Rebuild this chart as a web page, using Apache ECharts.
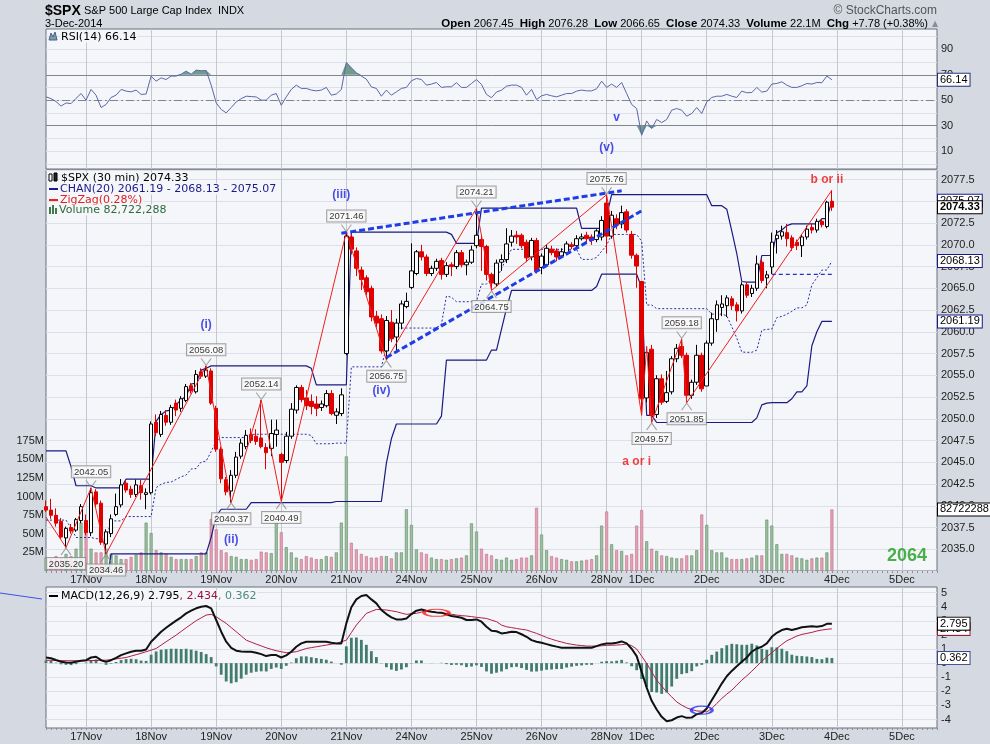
<!DOCTYPE html>
<html><head><meta charset="utf-8">
<script src="https://cdn.jsdelivr.net/npm/echarts@6/dist/echarts.min.js"></script>
<style>html,body{margin:0;padding:0;background:#d4d9e2;}#c{width:990px;height:744px;}</style>
</head><body><div id="c"></div>
<script>
// ---------- categories ----------
const days = ['14Nov','17Nov','18Nov','19Nov','20Nov','21Nov','24Nov','25Nov','26Nov','28Nov','1Dec','2Dec','3Dec','4Dec','5Dec'];
const barsPerDay = [8,13,13,13,13,13,13,13,13,7,13,13,13,13,8];
// ---------- price (30 min bars) ----------
const opens = [
 2039.9,2039.5,2038.9,2038.2,2036.3,2037.5,2037.2,2038.3,
 2038.3,2036.9,2041.6,2040.3,2035.6,2036.8,2039.0,2040.1,2042.6,2041.9,2041.3,2042.3,2041.3,
 2041.5,2049.6,2048.2,2050.4,2049.6,2051.8,2051.2,2052.1,2053.8,2053.1,2055.4,2054.9,2055.5,
 2051.2,2046.5,2043.0,2041.7,2043.5,2045.7,2046.8,2048.2,2048.0,2047.8,2046.7,2046.6,2048.2,
 2045.9,2045.2,2048.0,2051.0,2053.6,2052.4,2052.0,2051.7,2051.3,2051.5,2052.9,2050.4,2050.6,
 2057.5,2070.9,2069.3,2067.1,2066.2,2065.0,2061.8,2061.5,2057.8,2061.1,2059.4,2061.0,2062.9,
 2065.1,2066.7,2069.2,2068.6,2066.7,2067.3,2068.2,2066.6,2067.7,2067.5,2069.1,2067.7,2068.0,
 2069.9,2070.6,2069.8,2066.6,2065.5,2068.0,2068.3,2070.3,2071.1,2071.1,2070.3,2068.6,2070.5,
 2067.4,2067.7,2069.5,2069.3,2068.7,2069.1,2070.0,2069.9,2070.7,2071.1,2070.9,2070.6,2070.9,
 2074.8,2071.0,2073.0,2072.4,2073.8,2071.2,2068.8,
 2065.78,2052.4,2058.0,2050.5,2054.6,2052.0,2053.1,2056.9,2058.3,2057.3,2052.7,2054.2,2057.3,
 2053.77,2058.7,2061.4,2062.8,2063.0,2063.8,2063.1,2062.4,2065.4,2064.4,2065.0,2068.0,2066.2,
 2067.45,2070.7,2071.0,2071.4,2070.8,2070.3,2069.9,2070.9,2072.0,2071.7,2072.7,2072.1,2075.0];
const highs = [
 2040.6,2040.8,2039.7,2038.6,2037.6,2037.9,2038.6,2040.2,
 2039.0,2042.05,2041.9,2040.6,2037.3,2039.0,2041.4,2043.07,2042.9,2042.3,2043.0,2043.0,2042.0,
 2049.7,2050.5,2050.9,2051.0,2051.6,2052.2,2052.6,2054.0,2054.1,2055.6,2055.8,2056.08,2055.8,
 2051.5,2046.8,2043.3,2044.1,2046.2,2047.7,2048.7,2048.9,2048.8,2052.14,2047.2,2049.9,2049.9,
 2046.1,2048.5,2051.8,2053.84,2053.9,2053.3,2052.8,2052.6,2052.1,2053.3,2053.3,2051.2,2053.5,
 2071.46,2071.2,2069.7,2067.5,2066.5,2065.3,2062.4,2062.0,2061.8,2062.5,2061.5,2063.6,2064.5,
 2070.17,2069.4,2070.0,2068.9,2067.6,2068.4,2068.5,2068.0,2068.0,2069.4,2069.4,2068.3,2069.9,
 2074.21,2071.1,2070.0,2066.8,2068.3,2068.9,2071.9,2071.7,2071.6,2071.3,2070.6,2070.8,2070.8,
 2069.0,2070.0,2069.9,2069.6,2069.6,2070.4,2070.3,2071.1,2071.3,2071.5,2071.2,2071.8,2073.29,
 2075.76,2073.9,2073.5,2074.5,2074.1,2071.6,2069.0,
 2065.78,2058.3,2058.5,2055.0,2055.1,2055.5,2057.2,2058.6,2059.18,2057.6,2054.5,2058.5,2057.6,
 2059.0,2062.2,2063.6,2064.2,2064.2,2064.1,2063.4,2065.7,2065.7,2065.4,2068.77,2068.4,2067.0,
 2071.4,2071.7,2072.2,2072.4,2071.1,2070.6,2071.2,2072.2,2072.4,2073.0,2073.0,2075.07,2076.28];
const lows = [
 2039.3,2038.5,2037.6,2036.2,2035.20,2036.8,2037.0,2038.0,
 2036.6,2036.5,2039.8,2035.5,2034.46,2036.4,2038.8,2039.8,2041.5,2040.9,2041.0,2040.7,2039.6,
 2041.3,2048.0,2047.9,2049.2,2049.3,2050.3,2050.8,2051.9,2052.9,2052.9,2054.6,2054.7,2051.6,
 2046.2,2042.6,2041.2,2040.37,2043.2,2045.4,2046.5,2047.2,2047.0,2046.6,2044.2,2045.7,2046.8,
 2040.49,2044.9,2047.7,2050.6,2051.9,2051.0,2050.5,2050.3,2050.9,2051.3,2050.4,2049.4,2050.3,
 2057.3,2068.9,2066.4,2064.8,2064.2,2061.2,2060.5,2057.5,2056.75,2058.8,2057.9,2060.3,2062.7,
 2064.9,2066.5,2068.2,2066.4,2066.4,2067.0,2066.0,2066.3,2066.4,2067.2,2067.4,2066.5,2067.8,
 2069.6,2067.0,2065.9,2064.75,2065.2,2067.0,2067.9,2069.8,2070.1,2069.6,2068.0,2068.2,2066.7,
 2066.62,2067.5,2068.8,2068.1,2068.5,2068.8,2069.5,2069.6,2070.5,2070.2,2070.0,2070.3,2070.5,
 2069.0,2070.7,2071.8,2071.9,2071.4,2068.4,2065.06,
 2050.4,2051.9,2049.57,2050.1,2051.6,2051.8,2052.8,2056.5,2057.0,2051.85,2052.3,2053.9,2053.1,
 2053.77,2058.4,2060.0,2061.8,2061.7,2062.5,2061.19,2062.1,2063.9,2064.0,2064.7,2065.6,2065.0,
 2066.65,2069.0,2070.6,2069.8,2069.3,2069.4,2068.6,2070.6,2071.3,2071.4,2072.0,2071.9,2073.9];
const closes = [
 2039.5,2038.9,2038.0,2036.4,2037.4,2037.1,2038.4,2039.9,
 2036.9,2041.5,2040.2,2035.8,2037.0,2038.5,2039.9,2042.4,2041.8,2041.3,2042.4,2041.5,2041.5,
 2049.4,2048.4,2050.5,2049.6,2051.3,2051.0,2052.3,2053.7,2053.2,2055.1,2054.9,2055.6,2051.8,
 2046.5,2043.1,2041.6,2043.5,2045.6,2047.2,2048.1,2047.5,2047.4,2046.8,2046.1,2048.3,2048.7,
 2045.0,2048.0,2051.1,2053.6,2052.2,2051.5,2051.4,2051.2,2051.7,2052.9,2050.6,2050.8,2052.75,
 2071.0,2069.5,2067.3,2066.0,2064.6,2061.7,2061.0,2057.8,2061.3,2059.2,2061.0,2063.2,2063.5,
 2067.0,2069.2,2068.6,2066.7,2067.3,2068.1,2066.6,2067.6,2067.5,2069.1,2067.7,2068.0,2069.4,
 2071.1,2069.8,2066.6,2065.6,2067.9,2068.3,2070.1,2071.0,2070.9,2069.9,2068.5,2070.5,2067.0,
 2068.7,2069.6,2069.1,2068.6,2069.2,2070.1,2069.8,2070.7,2070.9,2070.7,2070.5,2071.6,2072.8,
 2071.0,2073.4,2072.3,2073.7,2071.7,2068.8,2067.56,
 2052.3,2057.6,2050.4,2054.6,2051.9,2053.0,2056.9,2058.1,2057.3,2052.7,2054.2,2057.3,2053.44,
 2058.7,2061.5,2063.1,2063.2,2063.9,2063.0,2062.4,2065.4,2064.2,2065.0,2067.8,2065.9,2066.55,
 2070.3,2071.1,2071.5,2070.7,2069.7,2069.9,2070.9,2071.8,2071.7,2072.7,2072.3,2074.9,2074.33];
// volume in millions
const volumes = [
 18,16,20,17,23,20,30,65,
 56,30,25,25,30,23,21,16,16,19,22,25,65,
 51,28,25,23,19,16,16,16,16,20,25,25,70,
 56,28,25,20,19,16,16,15,16,26,25,24,66,
 52,32,25,18,16,20,18,16,16,20,19,25,65,
 154,38,29,23,20,18,18,20,20,17,25,25,83,
 62,29,25,23,18,16,16,15,16,17,18,21,64,
 53,30,23,21,16,15,18,15,16,18,18,21,85,
 49,28,20,18,16,15,13,13,14,15,16,21,61,
 80,36,28,27,21,23,61,
 82,40,30,27,21,20,18,17,17,21,21,28,76,
 62,28,25,25,18,16,16,16,17,18,21,21,69,
 61,36,23,23,21,18,17,15,17,18,18,25,82.722288];
const rsi = [
 52.7,51.3,49.0,45.4,47.9,47.4,51.5,55.3,
 50.1,58.5,54.0,44.3,46.7,52.2,54.0,58.5,57.2,56.6,58.0,54.6,54.9,
 69.0,65.0,67.6,66.3,69.0,69.0,70.5,72.9,70.5,73.7,73.2,73.4,61.9,
 48.0,42.8,40.1,44.3,48.7,51.3,53.2,52.9,52.6,50.1,50.1,54.0,55.3,
 46.1,52.7,58.5,61.9,59.3,59.3,58.0,57.4,58.0,60.1,54.0,54.9,58.5,
 79.7,75.5,71.6,69.0,66.6,60.5,59.3,53.2,58.0,54.0,56.6,59.3,60.1,
 65.3,67.1,66.3,61.9,62.7,64.0,60.1,60.6,60.6,63.8,60.1,60.1,63.2,
 66.3,62.4,54.6,52.0,56.5,57.9,61.1,61.9,61.9,60.1,54.0,58.5,50.6,
 53.5,54.6,53.5,52.7,54.0,55.3,55.3,57.2,58.0,57.4,57.4,59.0,65.0,
 60.1,62.7,60.1,64.0,55.3,46.7,43.5,
 22.5,33.8,27.8,34.9,32.5,34.9,42.2,43.5,42.2,37.5,39.6,44.3,39.6,
 48.7,52.2,53.2,53.2,54.6,53.2,52.2,57.2,55.9,56.1,60.1,56.4,57.2,
 62.7,63.2,64.5,61.9,60.1,60.1,61.4,63.2,62.7,64.0,63.8,69.0,66.14];
const macd = [
 0.40,0.35,0.22,0.10,0.05,0.03,0.10,0.17,
 0.21,0.40,0.45,0.21,0.09,0.21,0.38,0.57,0.69,0.81,0.88,0.88,0.97,
 1.52,1.87,2.23,2.51,2.77,3.01,3.25,3.53,3.72,3.89,4.00,4.05,3.89,
 3.06,2.23,1.52,1.09,0.88,0.83,0.81,0.81,0.74,0.64,0.50,0.57,0.57,
 0.40,0.55,0.81,1.16,1.40,1.52,1.52,1.52,1.52,1.52,1.45,1.40,1.40,
 2.82,3.96,4.52,4.76,4.83,4.52,4.24,3.77,3.48,3.25,3.10,3.10,3.17,
 3.48,3.72,3.81,3.72,3.65,3.60,3.58,3.46,3.34,3.29,3.22,3.06,3.06,
 3.10,2.94,2.58,2.30,2.26,2.11,2.15,2.23,2.20,2.05,1.87,1.63,1.52,
 1.44,1.35,1.25,1.17,1.09,1.09,1.09,1.09,1.09,1.09,1.09,1.21,1.33,
 1.40,1.40,1.45,1.54,1.40,1.02,0.50,
 -0.62,-1.73,-2.67,-3.29,-3.81,-4.12,-4.05,-3.86,-3.76,-3.88,-3.86,-3.62,-3.53,
 -3.22,-2.63,-2.04,-1.45,-0.93,-0.55,-0.22,0.09,0.40,0.81,1.04,1.16,1.40,
 1.87,2.15,2.35,2.44,2.35,2.44,2.54,2.58,2.61,2.58,2.63,2.79,2.7954];
const signal = [
 0.21,0.20,0.19,0.18,0.17,0.17,0.17,0.17,
 0.17,0.18,0.19,0.20,0.21,0.25,0.30,0.35,0.40,0.50,0.60,0.70,0.81,
 0.92,1.04,1.28,1.52,1.75,1.99,2.25,2.51,2.76,3.01,3.21,3.41,3.46,
 3.29,3.05,2.82,2.52,2.23,1.93,1.63,1.49,1.35,1.22,1.09,0.98,0.88,
 0.81,0.74,0.77,0.81,0.92,1.04,1.10,1.16,1.22,1.28,1.34,1.40,1.51,
 1.63,2.16,2.70,3.11,3.53,3.67,3.81,3.79,3.77,3.71,3.65,3.55,3.46,
 3.50,3.53,3.62,3.72,3.66,3.60,3.56,3.53,3.47,3.41,3.37,3.34,3.30,
 3.25,3.21,3.17,3.05,2.94,2.70,2.58,2.52,2.46,2.40,2.35,2.23,2.11,
 1.97,1.82,1.70,1.59,1.50,1.40,1.34,1.28,1.25,1.21,1.21,1.21,1.23,
 1.26,1.27,1.28,1.31,1.35,1.24,1.00,
 0.50,-0.02,-0.62,-1.21,-1.63,-2.04,-2.39,-2.75,-2.98,-3.17,-3.29,-3.39,-3.41,
 -3.46,-3.22,-2.86,-2.51,-2.20,-1.92,-1.56,-1.21,-0.90,-0.57,-0.22,0.14,0.45,
 0.74,1.04,1.33,1.59,1.75,1.92,2.04,2.11,2.18,2.28,2.35,2.40,2.4336];
// price channel values still set by bars before the window
const chanUpperSeed = [2046.3,2046.3,2046.3,2046.3,2046.3,2044.5,2042.3,2042.3,2042.3,2042.3];
const chanLowerSeed = [2030.4,2030.4,2030.4,2030.4,2030.4,2030.4,2030.4,2030.4,2030.4,2030.4,2030.4,2030.4,2030.4];
// zigzag pivots [barIndex, price]
const zigzag = [[0,2038.7],[4,2035.20],[9,2042.05],[12,2034.46],[32,2056.08],[37,2040.37],[43,2052.14],[47,2040.49],[60,2071.46],[68,2056.75],[86,2074.21],[89,2064.75],[112,2075.76],[119,2050.4],[120,2058.3],[121,2049.57],[127,2059.18],[128,2051.85],[157,2076.28]];
const pivotHighs = [[9,2042.05],[32,2056.08],[43,2052.14],[60,2071.46],[86,2074.21],[112,2075.76],[127,2059.18]];
const pivotLows = [[4,2035.20],[12,2034.46],[37,2040.37],[47,2040.49],[68,2056.75],[89,2064.75],[121,2049.57],[128,2051.85]];
const trendUpper = [[59,2071.33],[115,2076.21]];
const trendLower = [[68,2057.04],[119,2073.91]];
const levelLine = [[145,2066.6],[157,2066.6]];
const waveBlue = [[32,2060.76,'(i)'],[37,2036.15,'(ii)'],[59,2075.78,'(iii)'],[67,2053.22,'(iv)']];
const waveRed = [[118,2045.03,'a or i'],[156,2077.5,'b or ii']];
const waveGreen = [[172,2034.23,'2064']];
const waveRsi = [[114,36.5,'v'],[112,12.9,'(v)']];
const macdMarks = [[78,3.57,'#ff1a1a',[25,7]],[131,-3.34,'#1f2ff0',[21,8]]];
const rsiTicks = [0,10,20,30,40,50,60,70,80,90,100];
const rsiLabels = [10,30,50,70,90];
const macdTicks = [-4,-3,-2,-1,0,1,2,3,4,5];

// ---------- derived ----------
const categories = [], dayStart = new Set();
days.forEach((d,di)=>{ for(let k=0;k<barsPerDay[di];k++){ if(k===0 && di>0) dayStart.add(categories.length); categories.push(d+' '+k);} });
const N = closes.length;
const candle = opens.map((o,i)=>[o,closes[i],lows[i],highs[i]]);
const chanUpper=[], chanLower=[], chanMid=[];
for(let i=0;i<N;i++){
  let hi = i<chanUpperSeed.length?chanUpperSeed[i]:-Infinity;
  let lo = i<chanLowerSeed.length?chanLowerSeed[i]:Infinity;
  for(let j=Math.max(0,i-20);j<i;j++){hi=Math.max(hi,highs[j]);lo=Math.min(lo,lows[j]);}
  chanUpper.push(+hi.toFixed(2)); chanLower.push(+lo.toFixed(2)); chanMid.push(+((hi+lo)/2).toFixed(2));
}
const hist = macd.map((m,i)=>+(m-signal[i]).toFixed(4));
const volData = volumes.map((v,i)=>{
  const up = i===0 ? true : closes[i]>=closes[i-1];
  return {value:v,itemStyle:{color:up?'#9dbf9f':'#e3a1b3',borderColor:up?'#5e8c68':'#c0708a',borderWidth:0.6}};
});
const last = a=>a[a.length-1];
const fmt2 = v=>v.toFixed(2);

const AX = 'Liberation Sans';
const PANEL = '#f5f6fa';
const gridStyle = {left:46,width:891,show:true,backgroundColor:PANEL,borderColor:'#6b707c',borderWidth:1,outerBoundsMode:'none'};
const vSplit = {show:true,interval:(i)=>dayStart.has(i),lineStyle:{color:'#c3c7d0',width:1}};
function xAx(g, showLabel){
  return {type:'category',gridIndex:g,data:categories,boundaryGap:false,position:'bottom',
    axisLine:{show:false,onZero:false},
    axisTick:{show:showLabel,interval:0,length:2,lineStyle:{color:'#8a8e98'}},
    axisLabel:{show:showLabel,interval:(i)=>dayStart.has(i),formatter:(v)=>v.split(' ')[0],color:'#222',fontSize:11,fontFamily:AX,margin:3},
    splitLine:vSplit};
}
function tag(v,text,border,bold){
  return {yAxis:v,lineStyle:{color:'rgba(0,0,0,0)',width:0},
    label:{show:true,position:'end',distance:1,formatter:text,color:'#000',fontSize:11,fontFamily:AX,fontWeight:bold?'bold':'normal',
      backgroundColor:'#ffffff',borderColor:border,borderWidth:1,padding:[1,2,0,2]}};
}
function textScatter(xi,yi,data,color,size,weight){
  return {type:'scatter',xAxisIndex:xi,yAxisIndex:yi,data:data,symbolSize:1,itemStyle:{color:'rgba(0,0,0,0)'},z:20,silent:true,
    label:{show:true,position:'inside',formatter:(p)=>p.data[2],color:color,fontSize:size,fontWeight:weight,fontFamily:AX}};
}
const pivotLabel = {show:true,formatter:(p)=>fmt2(p.data[1]),fontSize:9.5,fontFamily:AX,color:'#000',backgroundColor:'#fbfbfb',borderColor:'#8c8c8c',borderWidth:1,padding:[1,2,0,2],distance:1};
const legendText = (x,y,text,fill)=>({type:'text',x:x,y:y,z:50,style:{text:text,font:'11px "DejaVu Sans"',fill:fill,verticalAlign:'middle',backgroundColor:PANEL,padding:[0,1]}});

const option = {
  animation:false,
  backgroundColor:'#d4d9e2',
  textStyle:{fontFamily:AX},
  grid:[
    Object.assign({top:29,height:140},gridStyle),
    Object.assign({top:170,height:401},gridStyle),
    Object.assign({top:587,height:141},gridStyle)
  ],
  xAxis:[xAx(0,false),xAx(1,true),xAx(2,true)],
  yAxis:[
    {type:'value',gridIndex:0,position:'right',min:-4,max:106,
      axisLine:{show:false},axisTick:{show:false,customValues:rsiTicks},
      axisLabel:{customValues:rsiLabels,color:'#222',fontSize:11,fontFamily:AX,margin:4},
      splitLine:{show:true,lineStyle:{color:'#dde0e8'}}},
    {type:'value',gridIndex:1,position:'right',min:2032.5,max:2078.6,interval:2.5,
      axisLine:{show:false},axisTick:{show:false},
      axisLabel:{color:'#222',fontSize:11,fontFamily:AX,margin:4,
        formatter:(v)=>{const k=v/2.5; return (Math.abs(k-Math.round(k))<1e-6 && v>2034 && v<2078)?v.toFixed(1):'';}},
      splitLine:{show:true,lineStyle:{color:'#dde0e8'}}},
    {type:'value',gridIndex:1,position:'left',min:0,max:539,interval:25,
      axisLine:{show:false},axisTick:{show:false},
      axisLabel:{color:'#222',fontSize:11,fontFamily:AX,margin:2,formatter:(v)=>(v>=25&&v<=175)?v+'M':''},
      splitLine:{show:false}},
    {type:'value',gridIndex:2,position:'right',min:-4.6,max:5.4,
      axisLine:{show:false},axisTick:{show:false,customValues:macdTicks},
      axisLabel:{customValues:macdTicks,color:'#222',fontSize:11,fontFamily:AX,margin:4},
      splitLine:{show:true,lineStyle:{color:'#dde0e8'}}}
  ],
  series:[
    {type:'line',xAxisIndex:0,yAxisIndex:0,data:rsi.map(v=>Math.max(v,70)),symbol:'none',lineStyle:{width:0,color:'rgba(0,0,0,0)'},areaStyle:{origin:70,color:'#6f9c8c',opacity:1},z:3,silent:true},
    {type:'line',xAxisIndex:0,yAxisIndex:0,data:rsi.map(v=>Math.min(v,30)),symbol:'none',lineStyle:{width:0,color:'rgba(0,0,0,0)'},areaStyle:{origin:30,color:'#6f9c8c',opacity:1},z:3,silent:true},
    {type:'line',xAxisIndex:0,yAxisIndex:0,data:rsi,symbol:'none',lineStyle:{color:'#5a67a8',width:1},z:5,
      markLine:{silent:true,symbol:['none','none'],data:[
        {yAxis:70,lineStyle:{color:'#80858f',width:1,type:'solid'},label:{show:false}},
        {yAxis:30,lineStyle:{color:'#80858f',width:1,type:'solid'},label:{show:false}},
        {yAxis:50,lineStyle:{color:'#80858f',width:1,type:[8,3,2,3]},label:{show:false}},
        tag(last(rsi),fmt2(last(rsi)),'#24307a',false)
      ]}},
    textScatter(0,0,waveRsi,'#1b22e0',12,'bold'),
    {type:'bar',xAxisIndex:1,yAxisIndex:2,data:volData,barWidth:3,z:2,silent:true,
      markLine:{silent:true,symbol:['none','none'],z:30,data:[tag(last(volumes),String(Math.round(last(volumes)*1e6)),'#000',false)]}},
    {type:'line',xAxisIndex:1,yAxisIndex:1,data:chanMid,symbol:'none',lineStyle:{color:'#2a2ea6',width:1,type:[2,2]},z:4,
      markLine:{silent:true,symbol:['none','none'],z:30,data:[tag(last(chanMid),fmt2(last(chanMid)),'#1a1a8c',false)]}},
    {type:'line',xAxisIndex:1,yAxisIndex:1,data:chanLower,symbol:'none',lineStyle:{color:'#1a1a80',width:1.2},z:4,
      markLine:{silent:true,symbol:['none','none'],z:30,data:[tag(last(chanLower),fmt2(last(chanLower)),'#1a1a8c',false)]}},
    {type:'line',xAxisIndex:1,yAxisIndex:1,data:chanUpper,symbol:'none',lineStyle:{color:'#1a1a80',width:1.2},z:4,
      markLine:{silent:true,symbol:['none','none'],z:30,data:[tag(last(chanUpper),fmt2(last(chanUpper)),'#1a1a8c',false)]}},
    {type:'candlestick',xAxisIndex:1,yAxisIndex:1,data:candle,barWidth:4,z:6,silent:true,
      itemStyle:{color:'#ffffff',color0:'#e00000',borderColor:'#000000',borderColor0:'#e00000',borderWidth:1},
      markLine:{silent:true,symbol:['none','none'],z:31,data:[tag(last(closes),fmt2(last(closes)),'#000',true)]}},
    {type:'line',xAxisIndex:1,yAxisIndex:1,data:zigzag,symbol:'none',lineStyle:{color:'#ee2020',width:1},z:7,silent:true},
    {type:'line',xAxisIndex:1,yAxisIndex:1,data:trendUpper,symbol:'none',lineStyle:{color:'#1f3de6',width:3,type:[6,3]},z:8,silent:true},
    {type:'line',xAxisIndex:1,yAxisIndex:1,data:trendLower,symbol:'none',lineStyle:{color:'#1f3de6',width:3,type:[6,3]},z:8,silent:true},
    {type:'line',xAxisIndex:1,yAxisIndex:1,data:levelLine,symbol:'none',lineStyle:{color:'#2233cc',width:1.3,type:[4,3]},z:8,silent:true},
    {type:'scatter',xAxisIndex:1,yAxisIndex:1,data:pivotHighs,symbol:'path://M0,0L6,7L12,0',symbolSize:[10,7],symbolOffset:[0,-4],
      itemStyle:{color:'none',borderColor:'#8c8c8c',borderWidth:1},label:Object.assign({position:'top'},pivotLabel),z:15,silent:true},
    {type:'scatter',xAxisIndex:1,yAxisIndex:1,data:pivotLows,symbol:'path://M0,7L6,0L12,7',symbolSize:[10,7],symbolOffset:[0,4],
      itemStyle:{color:'none',borderColor:'#8c8c8c',borderWidth:1},label:Object.assign({position:'bottom'},pivotLabel),z:15,silent:true},
    textScatter(1,1,waveBlue,'#1b22e0',12,'bold'),
    textScatter(1,1,waveRed,'#ee1111',12,'bold'),
    textScatter(1,1,waveGreen,'#1e9e1e',18,'bold'),
    {type:'bar',xAxisIndex:2,yAxisIndex:3,data:hist,barWidth:2.8,itemStyle:{color:'#427c6d'},z:3,silent:true},
    {type:'line',xAxisIndex:2,yAxisIndex:3,data:signal,symbol:'none',lineStyle:{color:'#b01e3e',width:1},z:5,
      markLine:{silent:true,symbol:['none','none'],z:30,data:[tag(last(signal),last(signal).toFixed(3),'#9b1c3a',false),
        tag(last(hist),last(hist).toFixed(3),'#3b4a8e',false)]}},
    {type:'line',xAxisIndex:2,yAxisIndex:3,data:macd,symbol:'none',lineStyle:{color:'#111',width:2},z:6,
      markLine:{silent:true,symbol:['none','none'],z:31,data:[tag(last(macd),last(macd).toFixed(3),'#000',false)]}},
    {type:'scatter',xAxisIndex:2,yAxisIndex:3,data:macdMarks.map(m=>({value:[m[0],m[1]],symbolSize:m[3],itemStyle:{color:'rgba(0,0,0,0)',borderColor:m[2],borderWidth:2}})),symbol:'circle',z:12,silent:true}
  ],
  graphic:[
    {type:'text',x:45,y:11,style:{text:'$SPX',font:'bold 14px "Liberation Sans"',fill:'#000',verticalAlign:'middle'}},
    {type:'text',x:84,y:11,style:{text:'S&P 500 Large Cap Index  INDX',font:'11px "Liberation Sans"',fill:'#000',verticalAlign:'middle'}},
    {type:'text',x:45,y:24,style:{text:'3-Dec-2014',font:'11px "Liberation Sans"',fill:'#000',verticalAlign:'middle'}},
    {type:'text',x:937,y:11,style:{text:'\u00a9 StockCharts.com',font:'12px "Liberation Sans"',fill:'#555',align:'right',verticalAlign:'middle'}},
    {type:'text',x:928,y:24,style:{text:'{b|Open} 2067.45  {b|High} 2076.28  {b|Low} 2066.65  {b|Close} 2074.33  {b|Volume} 22.1M  {b|Chg} +7.78 (+0.38%)',
      fontSize:11,fontFamily:'Liberation Sans',fill:'#000',align:'right',verticalAlign:'middle',rich:{b:{fontWeight:'bold',fontSize:11.5,fontFamily:'Liberation Sans'}}}},
    {type:'text',x:932,y:24,style:{text:'\u25b2',font:'8px "DejaVu Sans"',fill:'#8a8e98',verticalAlign:'middle'}},
    {type:'polygon',z:51,shape:{points:[[49,40],[51,33],[53,37],[55,32],[57,40]]},style:{fill:'#79a394',stroke:'#4a5a9a',lineWidth:1}},
    legendText(60,37,'RSI(14) '+fmt2(last(rsi)),'#000'),
    {type:'rect',z:51,shape:{x:49,y:174,width:3,height:7},style:{fill:'#fff',stroke:'#000',lineWidth:1}},
    {type:'rect',z:51,shape:{x:54,y:173,width:3,height:8},style:{fill:'#222',stroke:'#000',lineWidth:1}},
    legendText(60,178,'$SPX (30 min) '+fmt2(last(closes)),'#000'),
    {type:'line',z:51,shape:{x1:49,y1:189,x2:58,y2:189},style:{stroke:'#1a1a8c',lineWidth:2}},
    legendText(59,189,'CHAN(20) '+fmt2(last(chanLower))+' - '+fmt2(last(chanMid))+' - '+fmt2(last(chanUpper)),'#1a1a8c'),
    {type:'line',z:51,shape:{x1:49,y1:200,x2:58,y2:200},style:{stroke:'#ee2020',lineWidth:2}},
    legendText(59,200,'ZigZag(0.28%)','#e02020'),
    {type:'rect',z:51,shape:{x:49,y:207,width:2,height:7},style:{fill:'#3f7a4c'}},
    {type:'rect',z:51,shape:{x:52,y:205,width:2,height:9},style:{fill:'#3f7a4c'}},
    {type:'rect',z:51,shape:{x:55,y:208,width:2,height:6},style:{fill:'#3f7a4c'}},
    legendText(58,210,'Volume '+Math.round(last(volumes)*1e6).toLocaleString('en-US'),'#2f6b3a'),
    {type:'line',z:51,shape:{x1:49,y1:596,x2:58,y2:596},style:{stroke:'#000',lineWidth:2}},
    {type:'text',x:60,y:596,z:50,style:{text:'{k|MACD(12,26,9) '+last(macd).toFixed(3)+'}{r|, '+last(signal).toFixed(3)+'}{t|, '+last(hist).toFixed(3)+'}',
      fontSize:11,fontFamily:'DejaVu Sans',verticalAlign:'middle',backgroundColor:PANEL,padding:[0,1],
      rich:{k:{fill:'#000',fontSize:11,fontFamily:'DejaVu Sans'},r:{fill:'#99143b',fontSize:11,fontFamily:'DejaVu Sans'},t:{fill:'#4a8a80',fontSize:11,fontFamily:'DejaVu Sans'}}}},
    {type:'line',shape:{x1:0,y1:593,x2:42,y2:599},style:{stroke:'#3f4fe6',lineWidth:1}}
  ]
};
const chart = echarts.init(document.getElementById('c'));
chart.setOption(option);
</script></body></html>
